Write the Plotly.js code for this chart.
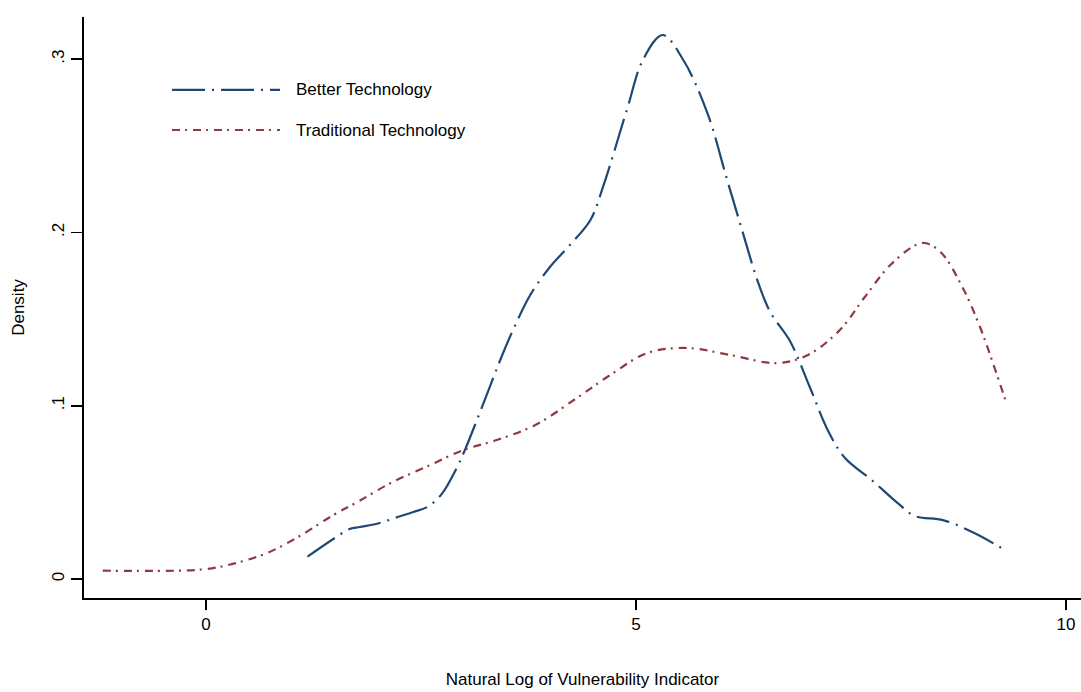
<!DOCTYPE html>
<html>
<head>
<meta charset="utf-8">
<script src="https://cdn.plot.ly/plotly-3.0.1.min.js"></script>
<style>html,body{margin:0;padding:0;background:#fff;}#chart{width:1081px;height:692px;}</style>
</head>
<body>
<div id="chart"></div>
<script>
// Better Technology kernel density
const betterX = [1.18, 1.48, 1.67, 1.79, 2.02, 2.23, 2.41, 2.57, 2.74, 2.92, 3.01, 3.15, 3.33, 3.44, 3.58, 3.77, 3.99, 4.23, 4.47, 4.62, 4.90, 5.08, 5.31, 5.55, 5.83, 6.06, 6.24, 6.41, 6.56, 6.79, 7.02, 7.24, 7.43, 7.74, 8.04, 8.24, 8.57, 8.91, 9.27];
const betterY = [0.0129, 0.0231, 0.0289, 0.0300, 0.0323, 0.0358, 0.0387, 0.0415, 0.0490, 0.0646, 0.0744, 0.0917, 0.1148, 0.1287, 0.1448, 0.1639, 0.1795, 0.1927, 0.2072, 0.2268, 0.2718, 0.2995, 0.3139, 0.2995, 0.2689, 0.2302, 0.2002, 0.1725, 0.1541, 0.1373, 0.1108, 0.0848, 0.0698, 0.0571, 0.0439, 0.0364, 0.0340, 0.0271, 0.0173];

// Traditional Technology kernel density
const tradX = [-1.20, -0.34, 0.01, 0.31, 0.71, 1.09, 1.48, 1.76, 2.17, 2.61, 2.99, 3.38, 3.83, 4.31, 4.70, 5.13, 5.59, 6.09, 6.64, 7.00, 7.37, 7.66, 7.98, 8.33, 8.54, 8.80, 9.00, 9.15, 9.31];
const tradY = [0.0048, 0.0048, 0.0058, 0.0087, 0.0150, 0.0248, 0.0369, 0.0444, 0.0560, 0.0658, 0.0744, 0.0802, 0.0889, 0.1044, 0.1177, 0.1304, 0.1333, 0.1293, 0.1246, 0.1293, 0.1437, 0.1627, 0.1823, 0.1939, 0.1887, 0.1679, 0.1454, 0.1246, 0.1010];

const seriesNames = ["Better Technology", "Traditional Technology"];
const xTicks = [0, 5, 10];
const xTickLabels = ["0", "5", "10"];
const yTicks = [0, 0.1, 0.2, 0.3];
const yTickLabels = ["0", ".1", ".2", ".3"];

const blue = "#1f4873";
const red = "#8e3a3e";
const blueDash = "33px,7px,2px,7px";
const redDash = "8px,5px,2px,6px";
const FONT = "Liberation Sans, Arial, Helvetica, sans-serif";

const traces = [
  {x: betterX, y: betterY, type: "scatter", mode: "lines", name: seriesNames[0],
   line: {color: blue, width: 2.2, dash: blueDash, shape: "spline", smoothing: 1}, hoverinfo: "skip"},
  {x: tradX, y: tradY, type: "scatter", mode: "lines", name: seriesNames[1],
   line: {color: red, width: 2.2, dash: redDash, shape: "spline", smoothing: 1}, hoverinfo: "skip"}
];

const legY = [0.8744, 0.8055];
const layout = {
  width: 1081, height: 692,
  margin: {l: 84, r: 0, t: 17, b: 94},
  paper_bgcolor: "#fff", plot_bgcolor: "#fff",
  showlegend: false,
  font: {family: FONT, color: "#000", size: 17},
  xaxis: {
    range: [-1.4186, 10.174], showgrid: false, zeroline: false,
    showline: true, linecolor: "#000", linewidth: 2,
    ticks: "outside", ticklen: 10, tickwidth: 1.6, tickcolor: "#000",
    tickvals: xTicks, ticktext: xTickLabels,
    tickfont: {family: FONT, size: 17, color: "#000"},
    title: {text: "Natural Log of Vulnerability Indicator", font: {family: FONT, size: 17, color: "#000"}, standoff: 40}
  },
  yaxis: {
    range: [-0.01096, 0.3243], showgrid: false, zeroline: false,
    showline: true, linecolor: "#000", linewidth: 2,
    ticks: "outside", ticklen: 11, tickwidth: 1.6, tickcolor: "#000",
    tickvals: yTicks, ticktext: yTickLabels, tickangle: -90,
    tickfont: {family: FONT, size: 17, color: "#000"},
    title: {text: "Density", font: {family: FONT, size: 17, color: "#000"}, standoff: 20}
  },
  shapes: [
    {type: "line", xref: "paper", yref: "paper", x0: 0.0883, x1: 0.1966, y0: legY[0], y1: legY[0],
     line: {color: blue, width: 2.2, dash: blueDash}},
    {type: "line", xref: "paper", yref: "paper", x0: 0.0883, x1: 0.1966, y0: legY[1], y1: legY[1],
     line: {color: red, width: 2.2, dash: redDash}}
  ],
  annotations: [
    {xref: "paper", yref: "paper", x: 0.2106, y: legY[0], xanchor: "left", yanchor: "middle",
     text: seriesNames[0], showarrow: false, font: {family: FONT, size: 17, color: "#000"}},
    {xref: "paper", yref: "paper", x: 0.2106, y: legY[1], xanchor: "left", yanchor: "middle",
     text: seriesNames[1], showarrow: false, font: {family: FONT, size: 17, color: "#000"}}
  ]
};

Plotly.newPlot("chart", traces, layout, {displayModeBar: false, staticPlot: true});
</script>
</body>
</html>
